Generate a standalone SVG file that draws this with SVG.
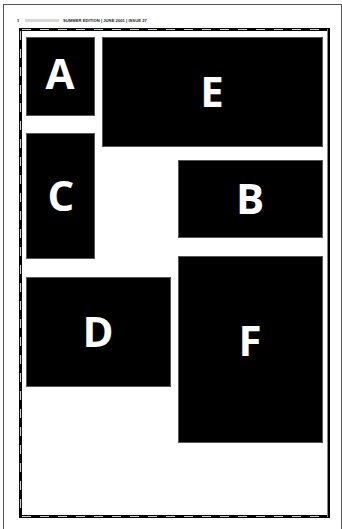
<svg xmlns="http://www.w3.org/2000/svg" width="342" height="529" viewBox="0 0 342 529">
<style>
.blk{fill:#000;stroke:#555;stroke-width:1}
.lbl{fill:#fff;font-family:"Open Sans","Liberation Sans",sans-serif;font-weight:bold;font-size:42px;text-anchor:middle}
.hdr{font-family:"Liberation Sans",Arial,sans-serif;font-weight:bold;font-size:4.2px;fill:#222}
</style>
<rect x="0" y="0" width="342" height="529" fill="#fff"/>
<rect x="3.5" y="4.5" width="338" height="530" fill="none" stroke="#555" stroke-width="1"/>
<g id="header">
<text class="hdr" x="17" y="22">1</text>
<rect x="25" y="19" width="34" height="3" fill="#bbb" opacity="0.6"/>
<text class="hdr" x="63" y="22">SUMMER EDITION | JUNE 2001 | ISSUE 27</text>
</g>
<g id="frame">
<rect x="20.5" y="29.5" width="308" height="487" fill="none" stroke="#000" stroke-width="3"/>
<path d="M22 29.5H328M20.5 31V517M22 516.5H328" fill="none" stroke="#ccc" stroke-width="1.2" stroke-dasharray="9 9"/>
<line x1="327.5" y1="29" x2="327.5" y2="517" stroke="#888" stroke-width="1"/>
</g>
<g id="A"><rect class="blk" x="26.5" y="37.5" width="68" height="78"/><text class="lbl" x="60" y="89">A</text></g>
<g id="E"><rect class="blk" x="102.5" y="37.5" width="220" height="109"/><text class="lbl" x="212" y="107">E</text></g>
<g id="C"><rect class="blk" x="26.5" y="133.5" width="68" height="125"/><text class="lbl" x="61" y="211">C</text></g>
<g id="B"><rect class="blk" x="178.5" y="160.5" width="144" height="77"/><text class="lbl" x="250" y="214">B</text></g>
<g id="D"><rect class="blk" x="26.5" y="277.5" width="144" height="109"/><text class="lbl" x="98" y="347">D</text></g>
<g id="F"><rect class="blk" x="178.5" y="256.5" width="144" height="186"/><text class="lbl" x="250" y="356">F</text></g>
<g id="connectors"></g>
</svg>
